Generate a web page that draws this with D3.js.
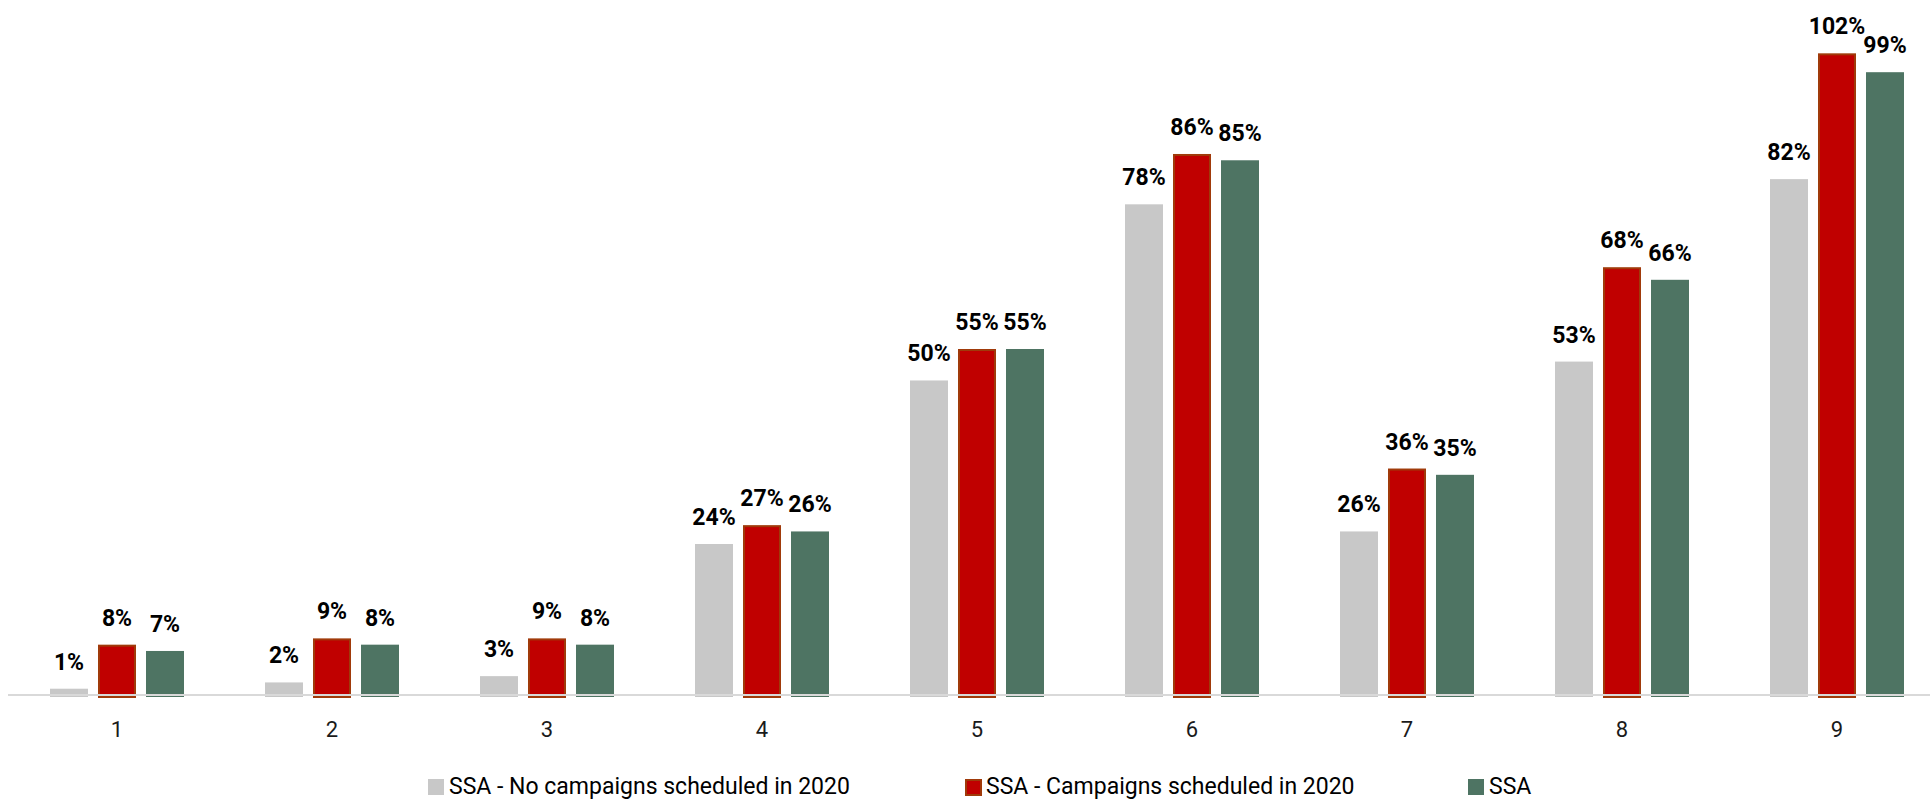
<!DOCTYPE html>
<html>
<head>
<meta charset="utf-8">
<script src="https://cdn.jsdelivr.net/npm/d3@7"></script>
<style>
  html, body { margin: 0; padding: 0; background: #ffffff; }
  svg { display: block; }
</style>
</head>
<body>
<svg id="chart" width="1930" height="800"></svg>
<script>
// Categories along the x axis
const categories = ["1", "2", "3", "4", "5", "6", "7", "8", "9"];

// Series names (legend order)
const seriesNames = [
  "SSA - No campaigns scheduled in 2020",
  "SSA - Campaigns scheduled in 2020",
  "SSA"
];

// Values in percent for each series
const noCampaigns = [1, 2, 3, 24, 50, 78, 26, 53, 82];
const withCampaigns = [8, 9, 9, 27, 55, 86, 36, 68, 102];
const ssaAll = [7, 8, 8, 26, 55, 85, 35, 66, 99];

const seriesValues = [noCampaigns, withCampaigns, ssaAll];

const fills = ["#c8c8c8", "#c00000", "#4e7463"];
const strokes = [null, "#a03a0a", null];

const svg = d3.select("#chart");
const baseY = 695;
const fontFamily = "Roboto, 'Liberation Sans', sans-serif";

const x0 = d3.scaleBand()
  .domain(categories)
  .range([9.5, 1944.5])
  .paddingInner(71 / 215)
  .paddingOuter(71 / 430);

const x1 = d3.scaleBand()
  .domain(d3.range(seriesNames.length))
  .range([0, x0.bandwidth()])
  .paddingInner(10 / 48)
  .paddingOuter(5 / 48);

const y = d3.scaleLinear().domain([0, 110]).range([baseY, 3]);

const rows = categories.map((c, i) => ({
  cat: c,
  vals: seriesValues.map((s, k) => ({ k, v: s[i] }))
}));

const groups = svg.append("g").selectAll("g")
  .data(rows)
  .join("g")
  .attr("transform", d => `translate(${x0(d.cat)},0)`);

// Bars
groups.selectAll("rect")
  .data(d => d.vals)
  .join("rect")
  .attr("x", d => x1(d.k) + (strokes[d.k] ? 1 : 0))
  .attr("y", d => y(d.v) + (strokes[d.k] ? 1 : 0))
  .attr("width", d => x1.bandwidth() - (strokes[d.k] ? 2 : 0))
  .attr("height", d => baseY + 2 - y(d.v) - (strokes[d.k] ? 1 : 0))
  .attr("fill", d => fills[d.k])
  .attr("stroke", d => strokes[d.k] || "none")
  .attr("stroke-width", 2);

// Value labels
groups.selectAll("text")
  .data(d => d.vals)
  .join("text")
  .attr("x", d => x1(d.k) + x1.bandwidth() / 2)
  .attr("y", d => y(d.v) - 19)
  .attr("text-anchor", "middle")
  .attr("font-family", fontFamily)
  .attr("font-weight", "bold")
  .attr("font-size", 23)
  .attr("fill", "#000000")
  .text(d => d.v + "%");

// Baseline axis
const xAxis = d3.axisBottom(x0).tickSize(0).tickPadding(0);
const axisG = svg.append("g")
  .attr("transform", `translate(0,${baseY})`)
  .call(xAxis);
axisG.select(".domain").remove();
axisG.append("line")
  .attr("x1", 8).attr("x2", 1930)
  .attr("y1", 0).attr("y2", 0)
  .attr("stroke", "#d9d9d9")
  .attr("stroke-width", 2);
axisG.selectAll(".tick text")
  .attr("y", 42)
  .attr("dy", null)
  .attr("font-family", fontFamily)
  .attr("font-size", 22)
  .attr("fill", "#1a1a1a");

// Legend
const legendPos = [428, 965, 1468];
const legend = svg.append("g").selectAll("g")
  .data(seriesNames)
  .join("g")
  .attr("transform", (d, i) => `translate(${legendPos[i]},779)`);

legend.append("rect")
  .attr("x", (d, i) => strokes[i] ? 1 : 0)
  .attr("y", (d, i) => strokes[i] ? 1 : 0)
  .attr("width", (d, i) => strokes[i] ? 15 : 16)
  .attr("height", (d, i) => strokes[i] ? 15 : 16)
  .attr("fill", (d, i) => fills[i])
  .attr("stroke", (d, i) => strokes[i] || "none")
  .attr("stroke-width", 2);

legend.append("text")
  .attr("x", 21)
  .attr("y", 15)
  .attr("font-family", fontFamily)
  .attr("font-size", 23)
  .attr("fill", "#000000")
  .text(d => d);
</script>
</body>
</html>
